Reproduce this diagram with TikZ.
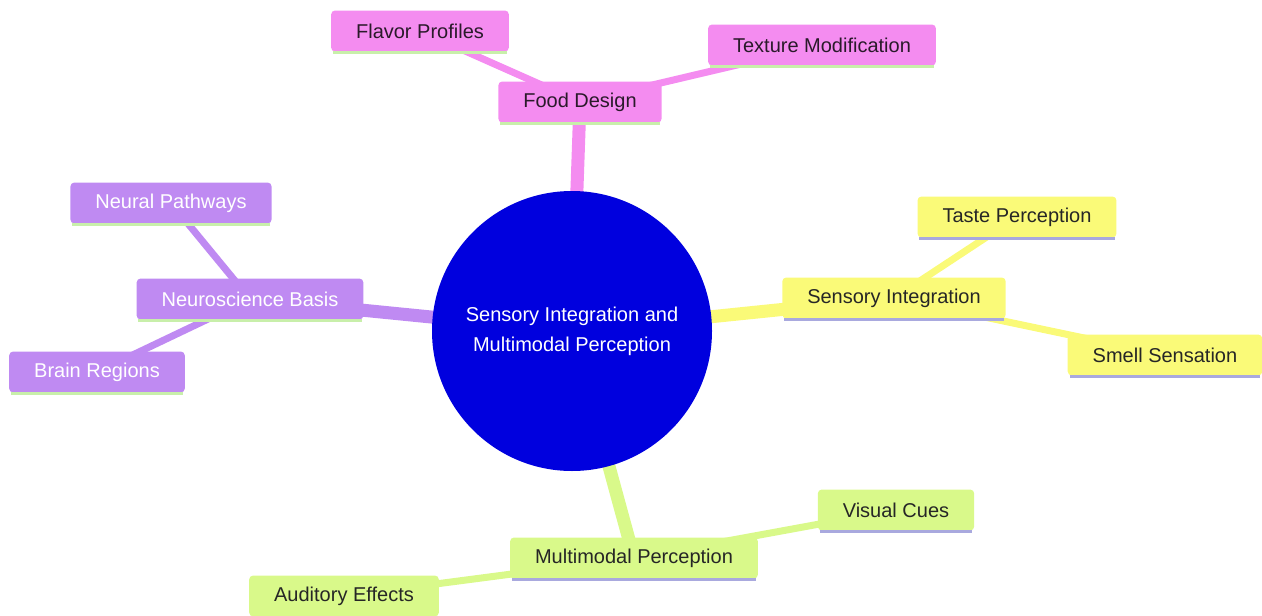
\documentclass[tikz,border=0pt]{standalone}
\usepackage{fontspec}
\setmainfont{Liberation Sans}
\usetikzlibrary{positioning, backgrounds}

\definecolor{rootblue}{HTML}{0000DE}
\definecolor{pinkbr}{HTML}{F48CF0}
\definecolor{purplebr}{HTML}{BF8AF2}
\definecolor{yellowbr}{HTML}{FAFA78}
\definecolor{greenbr}{HTML}{D9F98A}
\definecolor{shadegreen}{HTML}{C8EFAA}
\definecolor{shadelav}{HTML}{A9A9DE}
\definecolor{darkink}{HTML}{2A1A2A}

\begin{document}
\begin{tikzpicture}[x = 1pt, y = -1pt,
    leaf/.style = {rectangle, rounded corners = 4pt, minimum height = 41pt,
        inner xsep = 25pt, inner ysep = 0pt, font = \fontsize{20}{24}\selectfont},
    foodbox/.style = {leaf, fill = pinkbr, text = darkink},
    neurobox/.style = {leaf, fill = purplebr, text = white},
    sensebox/.style = {leaf, fill = yellowbr, text = black!85},
    multibox/.style = {leaf, fill = greenbr, text = black!85},
    trunk/.style = {line width = 13pt},
    twig/.style = {line width = 7pt}]

    \useasboundingbox (0,0) rectangle (1262,616);

    \node[circle, fill = rootblue, minimum size = 280pt, text = white, align = center,
        font = \fontsize{20}{30}\selectfont] (Root) at (572,331)
        {Sensory Integration and\\Multimodal Perception};

    \foreach \NAME/\X/\Y/\STY/\SHADE/\TEXT in {
        Food/580/102/foodbox/shadegreen/{Food Design},
        Flavor/420/31/foodbox/shadegreen/{Flavor Profiles},
        Texture/822/45/foodbox/shadegreen/{Texture Modification},
        Neuro/250/299/neurobox/shadegreen/{Neuroscience Basis},
        Neural/171/203/neurobox/shadegreen/{Neural Pathways},
        Brain/97/372/neurobox/shadegreen/{Brain Regions},
        Sense/894/298/sensebox/shadelav/{Sensory Integration},
        Taste/1017/217/sensebox/shadelav/{Taste Perception},
        Smell/1165/355/sensebox/shadelav/{Smell Sensation},
        Multi/634/558/multibox/shadelav/{Multimodal Perception},
        Visual/896/510/multibox/shadelav/{Visual Cues},
        Audit/344/596/multibox/shadelav/{Auditory Effects}}{
        \node[\STY] (\NAME) at (\X,\Y) {\TEXT};
        \draw[\SHADE, line width = 3pt]
            ([xshift = 2pt, yshift = -1pt]\NAME.south west) --
            ([xshift = -2pt, yshift = -1pt]\NAME.south east);
    }

    % branches behind the boxes
    \begin{scope}[on background layer]
        \draw[trunk, pinkbr] (Root.center) -- (Food.center);
        \draw[trunk, purplebr] (Root.center) -- (Neuro.center);
        \draw[trunk, yellowbr] (Root.center) -- (Sense.center);
        \draw[trunk, greenbr] (Root.center) -- (Multi.center);

        \foreach \FROM/\TO/\COL in {Food/Flavor/pinkbr, Food/Texture/pinkbr,
            Neuro/Neural/purplebr, Neuro/Brain/purplebr,
            Sense/Taste/yellowbr, Sense/Smell/yellowbr,
            Multi/Visual/greenbr, Multi/Audit/greenbr}
            \draw[twig, \COL] (\FROM.center) -- (\TO.center);
    \end{scope}

\end{tikzpicture}
\end{document}
